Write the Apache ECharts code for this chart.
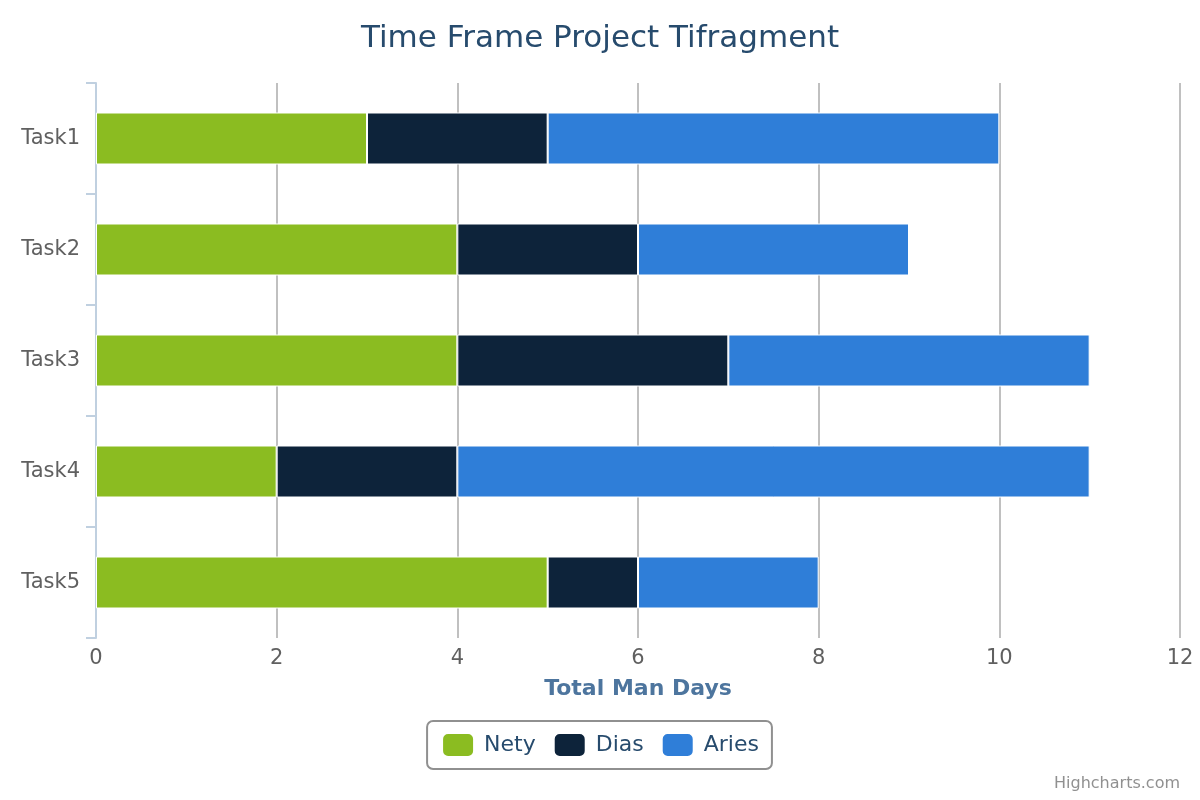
<!DOCTYPE html>
<html>
<head>
<meta charset="utf-8">
<script src="https://cdn.jsdelivr.net/npm/echarts@6/dist/echarts.min.js"></script>
<style>
    html, body { margin: 0; padding: 0; background: #fff; }
    #chart { width: 1200px; height: 800px; }
</style>
</head>
<body>
<div id="chart"></div>
<script>
const tasks = ['Task1', 'Task2', 'Task3', 'Task4', 'Task5'];
const nety = [3, 4, 4, 2, 5];
const dias = [2, 2, 3, 2, 1];
const aries = [5, 3, 4, 7, 2];

const font = 'DejaVu Sans';

function makeSeries(name, values, color) {
    return {
        name: name,
        type: 'bar',
        stack: 'total',
        data: values,
        barWidth: 52,
        itemStyle: {
            color: color,
            borderColor: '#ffffff',
            borderWidth: 1
        }
    };
}

var chart = echarts.init(document.getElementById('chart'));
var option = {
    animation: false,
    textStyle: { fontFamily: font },
    title: {
        text: 'Time Frame Project Tifragment',
        left: 'center',
        top: 18,
        textStyle: {
            fontFamily: font,
            fontSize: 31,
            fontWeight: 'normal',
            color: '#274b6d'
        }
    },
    grid: {
        left: 96,
        right: 20,
        top: 83,
        bottom: 162
    },
    legend: {
        left: 'center',
        top: 721,
        padding: [11, 13, 11, 14],
        borderColor: '#909090',
        borderWidth: 2,
        borderRadius: 6,
        itemWidth: 32,
        itemHeight: 24,
        itemGap: 17,
        itemStyle: { borderRadius: 3 },
        textStyle: {
            fontFamily: font,
            fontSize: 22,
            color: '#274b6d',
            padding: [0, 0, 0, 5]
        },
        data: ['Nety', 'Dias', 'Aries']
    },
    xAxis: {
        type: 'value',
        min: 0,
        max: 12,
        interval: 2,
        name: 'Total Man Days',
        nameLocation: 'middle',
        nameGap: 40,
        nameTextStyle: {
            fontFamily: font,
            fontSize: 22,
            fontWeight: 'bold',
            color: '#4d759e'
        },
        axisLine: { show: false },
        axisTick: { show: false },
        axisLabel: {
            fontFamily: font,
            fontSize: 21,
            color: '#606060',
            margin: 10
        },
        splitLine: {
            show: true,
            lineStyle: { color: '#c0c0c0', width: 2 }
        }
    },
    yAxis: {
        type: 'category',
        data: tasks,
        inverse: true,
        axisLine: {
            show: true,
            lineStyle: { color: '#c0d0e0', width: 2 }
        },
        axisTick: {
            show: true,
            length: 10,
            lineStyle: { color: '#c0d0e0', width: 2 }
        },
        axisLabel: {
            fontFamily: font,
            fontSize: 21,
            color: '#606060',
            margin: 16
        }
    },
    graphic: [{
        type: 'text',
        right: 20,
        bottom: 8,
        style: {
            text: 'Highcharts.com',
            fontFamily: font,
            fontSize: 16,
            fill: '#909090'
        }
    }],
    series: [
        makeSeries('Nety', nety, '#8bbc21'),
        makeSeries('Dias', dias, '#0d233a'),
        makeSeries('Aries', aries, '#2f7ed8')
    ]
};
chart.setOption(option);
</script>
</body>
</html>
